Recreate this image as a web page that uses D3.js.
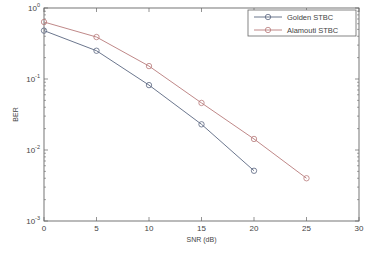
<!DOCTYPE html>
<html>
<head>
<meta charset="utf-8">
<script src="https://cdn.jsdelivr.net/npm/d3@7"></script>
<style>
  body { margin: 0; background: #fff; }
  text { font-family: "Liberation Sans", Arial, sans-serif; fill: #444; }
</style>
</head>
<body>
<div id="chart"></div>
<script>
let snr = [0, 5, 10, 15, 20, 25],
    golden = [0.48, 0.25, 0.082, 0.023, 0.0051],
    alamouti = [0.635, 0.39, 0.152, 0.046, 0.0143, 0.004],
    xTicks = [0, 5, 10, 15, 20, 25, 30],
    yTicks = [0, -1, -2, -3],
    seriesNames = ["Golden STBC", "Alamouti STBC"],
    seriesColors = ["#5a6680", "#b87a7a"];

let W = 374, H = 254,
    margin = { top: 8, right: 15, bottom: 33, left: 44 },
    width = W - margin.left - margin.right,
    height = H - margin.top - margin.bottom;

let svg = d3.select("#chart").append("svg").attr("width", W).attr("height", H),
    g = svg.append("g").attr("transform", "translate(" + margin.left + "," + margin.top + ")");

let x = d3.scaleLinear().domain([0, 30]).range([0, width]),
    y = d3.scaleLog().domain([1e-3, 1]).range([height, 0]);

let axisColor = "#666";

// minor + major ticks on all four sides, pointing inward
let minor = [];
for (let e = -3; e < 0; e++) for (let m = 2; m < 10; m++) minor.push(m * Math.pow(10, e));

minor.forEach(v => {
    g.append("line").attr("x1", 0).attr("x2", 2).attr("y1", y(v)).attr("y2", y(v)).attr("stroke", axisColor).attr("stroke-width", 0.6);
    g.append("line").attr("x1", width).attr("x2", width - 2).attr("y1", y(v)).attr("y2", y(v)).attr("stroke", axisColor).attr("stroke-width", 0.6);
});
yTicks.forEach(e => {
    let v = Math.pow(10, e);
    g.append("line").attr("x1", 0).attr("x2", 4).attr("y1", y(v)).attr("y2", y(v)).attr("stroke", axisColor).attr("stroke-width", 0.7);
    g.append("line").attr("x1", width).attr("x2", width - 4).attr("y1", y(v)).attr("y2", y(v)).attr("stroke", axisColor).attr("stroke-width", 0.7);
    let t = g.append("text").attr("x", -4).attr("y", y(v) + 3).attr("text-anchor", "end").attr("font-size", 8);
    t.append("tspan").text("10");
    t.append("tspan").attr("dy", -4).attr("font-size", 5.5).text(e);
});
xTicks.forEach(v => {
    g.append("line").attr("x1", x(v)).attr("x2", x(v)).attr("y1", height).attr("y2", height - 4).attr("stroke", axisColor).attr("stroke-width", 0.7);
    g.append("line").attr("x1", x(v)).attr("x2", x(v)).attr("y1", 0).attr("y2", 4).attr("stroke", axisColor).attr("stroke-width", 0.7);
    g.append("text").attr("x", x(v)).attr("y", height + 10).attr("text-anchor", "middle").attr("font-size", 8).text(v);
});

g.append("rect").attr("width", width).attr("height", height)
    .attr("fill", "none").attr("stroke", axisColor).attr("stroke-width", 0.9);

g.append("text").attr("x", width / 2).attr("y", height + 21).attr("text-anchor", "middle").attr("font-size", 7).text("SNR (dB)");
g.append("text").attr("transform", `translate(${-26},${height / 2})rotate(-90)`).attr("text-anchor", "middle").attr("font-size", 7).text("BER");

let line = d3.line().x((d, i) => x(snr[i])).y(d => y(d));

[golden, alamouti].forEach((s, k) => {
    g.append("path").datum(s).attr("fill", "none").attr("stroke", seriesColors[k]).attr("stroke-width", 0.9).attr("d", line);
    g.selectAll(".m" + k).data(s).enter().append("circle")
        .attr("cx", (d, i) => x(snr[i])).attr("cy", d => y(d)).attr("r", 2.7)
        .attr("fill", "none").attr("stroke", seriesColors[k]).attr("stroke-width", 0.8);
});

// legend
let lg = svg.append("g").attr("transform", "translate(248,10)");
lg.append("rect").attr("width", 108).attr("height", 26).attr("fill", "#fff").attr("stroke", axisColor).attr("stroke-width", 0.8);
seriesNames.forEach((n, k) => {
    let yy = 7 + k * 13;
    lg.append("line").attr("x1", 6).attr("x2", 34).attr("y1", yy).attr("y2", yy).attr("stroke", seriesColors[k]).attr("stroke-width", 0.9);
    lg.append("circle").attr("cx", 20).attr("cy", yy).attr("r", 2.7).attr("fill", "none").attr("stroke", seriesColors[k]).attr("stroke-width", 0.8);
    lg.append("text").attr("x", 39).attr("y", yy + 2.5).attr("font-size", 7.5).text(n);
});
</script>
</body>
</html>
